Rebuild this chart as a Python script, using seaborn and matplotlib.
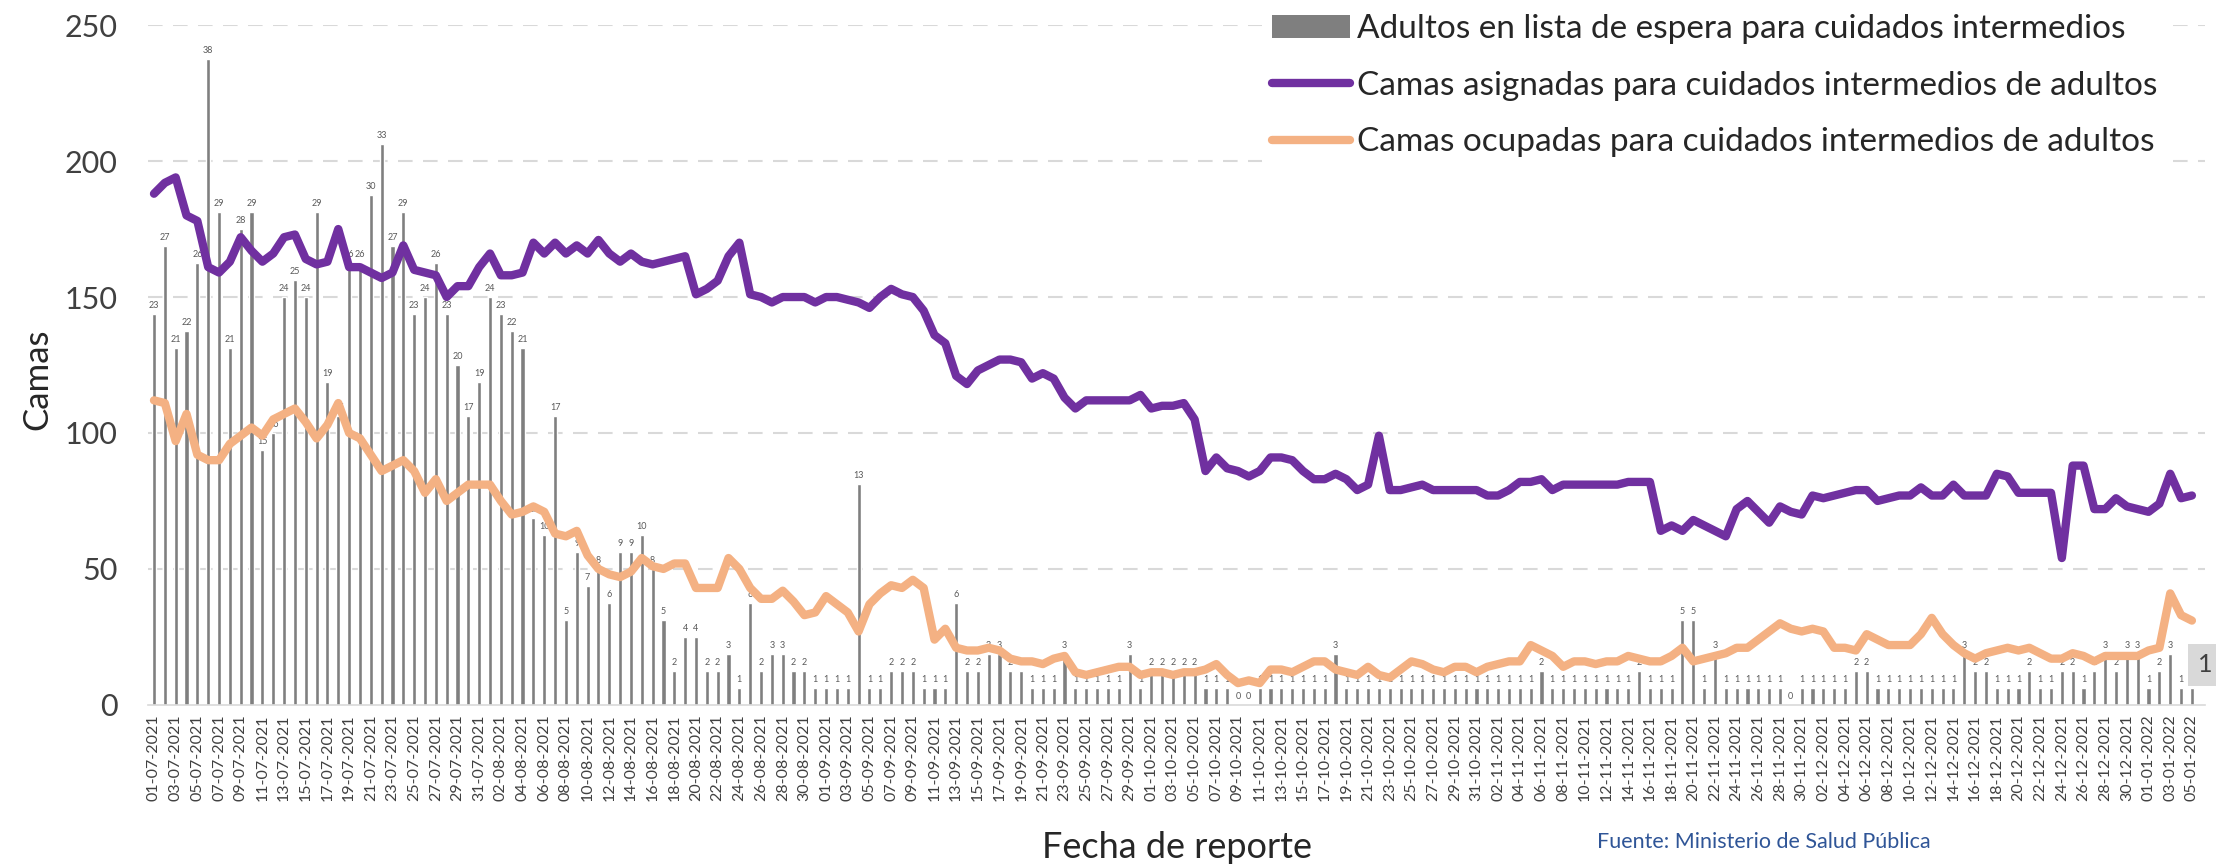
import numpy as np
import pandas as pd
import seaborn as sns
from matplotlib import pyplot as plt
from matplotlib.lines import Line2D
from matplotlib.patches import Patch

# --- Data, one value per day 01-07-2021 .. 05-01-2022 ---
fechas = pd.date_range("2021-07-01", "2022-01-05", freq="D")

# adults on the waiting list (bar labels)
espera = [
    23, 27, 21, 22, 26, 38, 29, 21, 28, 29,
    15, 16, 24, 25, 24, 29, 19, 17, 26, 26,
    30, 33, 27, 29, 23, 24, 26, 23, 20, 17,
    19, 24, 23, 22, 21, 11, 10, 17, 5, 9,
    7, 8, 6, 9, 9, 10, 8, 5, 2, 4,
    4, 2, 2, 3, 1, 6, 2, 3, 3, 2,
    2, 1, 1, 1, 1, 13, 1, 1, 2, 2,
    2, 1, 1, 1, 6, 2, 2, 3, 3, 2,
    2, 1, 1, 1, 3, 1, 1, 1, 1, 1,
    3, 1, 2, 2, 2, 2, 2, 1, 1, 1,
    0, 0, 1, 1, 1, 1, 1, 1, 1, 3,
    1, 1, 1, 1, 1, 1, 1, 1, 1, 1,
    1, 1, 1, 1, 1, 1, 1, 1, 2, 1,
    1, 1, 1, 1, 1, 1, 1, 2, 1, 1,
    1, 5, 5, 1, 3, 1, 1, 1, 1, 1,
    1, 0, 1, 1, 1, 1, 1, 2, 2, 1,
    1, 1, 1, 1, 1, 1, 1, 3, 2, 2,
    1, 1, 1, 2, 1, 1, 2, 2, 1, 2,
    3, 2, 3, 3, 1, 2, 3, 1, 1,
]

# beds assigned for adult intermediate care
asignadas = [
    188, 192, 194, 180, 178, 161, 159, 163, 172, 167,
    163, 166, 172, 173, 164, 162, 163, 175, 161, 161,
    159, 157, 159, 169, 160, 159, 158, 150, 154, 154,
    161, 166, 158, 158, 159, 170, 166, 170, 166, 169,
    166, 171, 166, 163, 166, 163, 162, 163, 164, 165,
    151, 153, 156, 165, 170, 151, 150, 148, 150, 150,
    150, 148, 150, 150, 149, 148, 146, 150, 153, 151,
    150, 145, 136, 133, 121, 118, 123, 125, 127, 127,
    126, 120, 122, 120, 113, 109, 112, 112, 112, 112,
    112, 114, 109, 110, 110, 111, 105, 86, 91, 87,
    86, 84, 86, 91, 91, 90, 86, 83, 83, 85,
    83, 79, 81, 99, 79, 79, 80, 81, 79, 79,
    79, 79, 79, 77, 77, 79, 82, 82, 83, 79,
    81, 81, 81, 81, 81, 81, 82, 82, 82, 64,
    66, 64, 68, 66, 64, 62, 72, 75, 71, 67,
    73, 71, 70, 77, 76, 77, 78, 79, 79, 75,
    76, 77, 77, 80, 77, 77, 81, 77, 77, 77,
    85, 84, 78, 78, 78, 78, 54, 88, 88, 72,
    72, 76, 73, 72, 71, 74, 85, 76, 77,
]

# beds occupied for adult intermediate care
ocupadas = [
    112, 111, 97, 107, 92, 90, 90, 96, 99, 102,
    99, 105, 107, 109, 104, 98, 103, 111, 100, 98,
    92, 86, 88, 90, 86, 78, 83, 75, 78, 81,
    81, 81, 75, 70, 71, 73, 71, 63, 62, 64,
    55, 50, 48, 47, 49, 54, 51, 50, 52, 52,
    43, 43, 43, 54, 50, 43, 39, 39, 42, 38,
    33, 34, 40, 37, 34, 27, 37, 41, 44, 43,
    46, 43, 24, 28, 21, 20, 20, 21, 20, 17,
    16, 16, 15, 17, 18, 12, 11, 12, 13, 14,
    14, 11, 12, 12, 11, 12, 12, 13, 15, 11,
    8, 9, 8, 13, 13, 12, 14, 16, 16, 13,
    12, 11, 14, 11, 10, 13, 16, 15, 13, 12,
    14, 14, 12, 14, 15, 16, 16, 22, 20, 18,
    14, 16, 16, 15, 16, 16, 18, 17, 16, 16,
    18, 21, 16, 17, 18, 19, 21, 21, 24, 27,
    30, 28, 27, 28, 27, 21, 21, 20, 26, 24,
    22, 22, 22, 26, 32, 26, 22, 19, 17, 19,
    20, 21, 20, 21, 19, 17, 17, 19, 18, 16,
    18, 18, 18, 18, 20, 21, 41, 33, 31,
]

lbl_espera = "Adultos en lista de espera para cuidados intermedios"
lbl_asignadas = "Camas asignadas para cuidados intermedios de adultos"
lbl_ocupadas = "Camas ocupadas para cuidados intermedios de adultos"

df = pd.DataFrame({
    "dia": np.arange(len(fechas)),
    "fecha": fechas.strftime("%d-%m-%Y"),
    "espera": espera,
    "asignadas": asignadas,
    "ocupadas": ocupadas,
})

GRIS = "#7f7f7f"
MORADO = "#7030A0"
NARANJA = "#F4B183"

sns.set_style("white")
plt.rcParams["font.family"] = ["Lato", "DejaVu Sans"]

fig = plt.figure(figsize=(22.16, 8.67), dpi=100)
ax = fig.add_axes([0.0668, 0.187, 0.9282, 0.784])
ax2 = ax.twinx()

# bars on a hidden secondary scale (0-40), lines on the "Camas" scale (0-250)
sns.barplot(data=df, x="dia", y="espera", native_scale=True, ax=ax2,
            color=GRIS, saturation=1, width=0.38, errorbar=None)
ax2.bar_label(ax2.containers[0], fontsize=6.5, color="#595959", padding=3)

sns.lineplot(data=df, x="dia", y="asignadas", ax=ax, color=MORADO, linewidth=6)
sns.lineplot(data=df, x="dia", y="ocupadas", ax=ax, color=NARANJA, linewidth=6)

ax.set_zorder(2)
ax2.set_zorder(1)
ax.patch.set_visible(False)

ax.set_ylim(0, 250)
ax2.set_ylim(0, 40)
ax.set_xlim(-0.55, 189.2)
ax.set_yticks(range(0, 251, 50))
ax.set_xticks(df["dia"][::2])
ax.set_xticklabels(df["fecha"][::2], rotation=90)
ax.set_xlabel("")
ax.set_ylabel("")
ax2.set_ylabel("")

ax2.set_yticks([8, 16, 24, 32, 40])
ax2.grid(axis="y", color="#d9d9d9", linestyle=(0, (7, 5)), linewidth=1.5)
ax2.tick_params(axis="y", length=0, labelright=False)
ax.grid(False)

for s in ["top", "right", "left"]:
    ax.spines[s].set_visible(False)
for s in ax2.spines.values():
    s.set_visible(False)
ax.spines["bottom"].set_color("#d9d9d9")
ax.spines["bottom"].set_linewidth(1.2)

ax.tick_params(axis="x", length=4, color="#bfbfbf", labelsize=11.5, labelcolor="#404040", pad=3)
ax.tick_params(axis="y", length=0, labelsize=22, pad=22, labelcolor="#404040")

handles = [
    Patch(facecolor=GRIS, edgecolor="none"),
    Line2D([], [], color=MORADO, linewidth=6),
    Line2D([], [], color=NARANJA, linewidth=6),
]
leg = ax.legend(handles, [lbl_espera, lbl_asignadas, lbl_ocupadas],
                loc="upper left", bbox_to_anchor=(1262 / 2216, 1 - 4 / 867),
                bbox_transform=fig.transFigure, fontsize=24, frameon=True,
                facecolor="white", edgecolor="none", framealpha=1,
                handlelength=2.35, handletextpad=0.2, labelspacing=0.8,
                borderpad=0.3, borderaxespad=0)
for t in leg.get_texts():
    t.set_color("#262626")

fig.text(0.017, 0.562, "Camas", rotation=90, ha="center", va="center",
         fontsize=25, color="#262626")
fig.text(0.531, 0.022, "Fecha de reporte", ha="center", va="center",
         fontsize=26, color="#262626")
fig.text(0.7207, 0.029, "Fuente: Ministerio de Salud Pública", ha="left", va="center",
         fontsize=15.5, color="#2F5597")
fig.text(0.9985, 0.233, "1", ha="right", va="center", fontsize=18, color="#404040",
         bbox=dict(facecolor="#d9d9d9", edgecolor="none", pad=7))

fig.savefig("out.png", dpi=100, facecolor="white")
